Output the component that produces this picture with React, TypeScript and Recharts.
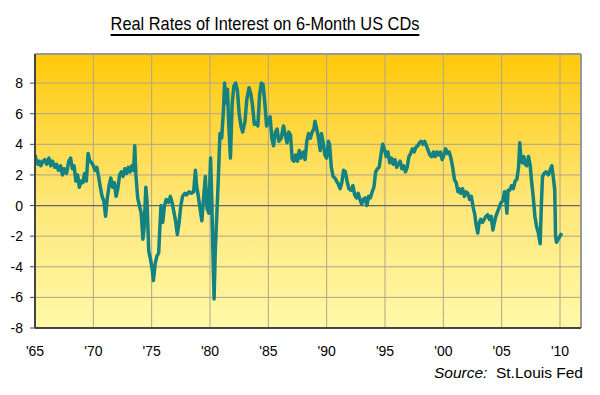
import {
  LineChart,
  Line,
  XAxis,
  YAxis,
  CartesianGrid,
  ReferenceLine,
} from "recharts";

// decimal year of each reading
const dates = [
  1965.0, 1965.1, 1965.25, 1965.4, 1965.5, 1965.7, 1965.85, 1966.0, 1966.2, 1966.35, 1966.5, 1966.7, 1966.85,
  1967.0, 1967.2, 1967.35, 1967.5, 1967.7, 1967.9, 1968.05, 1968.2, 1968.35, 1968.5, 1968.65, 1968.8, 1968.95,
  1969.1, 1969.25, 1969.4, 1969.55, 1969.7, 1969.85, 1970.0, 1970.15, 1970.3, 1970.45, 1970.6, 1970.75, 1970.9,
  1971.05, 1971.2, 1971.35, 1971.5, 1971.65, 1971.8, 1971.95, 1972.1, 1972.25, 1972.4, 1972.55, 1972.7, 1972.85,
  1973.0, 1973.15, 1973.3, 1973.45, 1973.55, 1973.65, 1973.8, 1973.95, 1974.1, 1974.25, 1974.35, 1974.5, 1974.6,
  1974.75, 1974.9, 1975.05, 1975.15, 1975.3, 1975.45, 1975.6, 1975.7, 1975.8, 1975.95, 1976.1, 1976.25, 1976.45,
  1976.6, 1976.75, 1976.9, 1977.05, 1977.2, 1977.35, 1977.5, 1977.65, 1977.85, 1978.0, 1978.2, 1978.4, 1978.6,
  1978.75, 1978.85, 1979.0, 1979.15, 1979.3, 1979.45, 1979.6, 1979.75, 1979.9, 1980.05, 1980.15, 1980.25, 1980.35,
  1980.45, 1980.6, 1980.7, 1980.85, 1981.0, 1981.15, 1981.25, 1981.35, 1981.5, 1981.6, 1981.75, 1981.9, 1982.05,
  1982.2, 1982.35, 1982.5, 1982.65, 1982.8, 1983.0, 1983.15, 1983.35, 1983.5, 1983.65, 1983.8, 1983.95, 1984.1,
  1984.25, 1984.4, 1984.55, 1984.7, 1984.85, 1985.0, 1985.15, 1985.3, 1985.45, 1985.6, 1985.75, 1985.9, 1986.1,
  1986.3, 1986.45, 1986.6, 1986.75, 1986.9, 1987.05, 1987.2, 1987.35, 1987.5, 1987.65, 1987.8, 1988.0, 1988.15,
  1988.3, 1988.45, 1988.6, 1988.75, 1988.9, 1989.0, 1989.15, 1989.3, 1989.45, 1989.55, 1989.7, 1989.85, 1990.0,
  1990.15, 1990.25, 1990.4, 1990.55, 1990.7, 1990.85, 1991.0, 1991.15, 1991.3, 1991.45, 1991.6, 1991.75, 1991.9,
  1992.1, 1992.25, 1992.4, 1992.55, 1992.7, 1992.85, 1993.0, 1993.15, 1993.3, 1993.45, 1993.6, 1993.75, 1993.9,
  1994.05, 1994.2, 1994.35, 1994.5, 1994.65, 1994.8, 1994.95, 1995.1, 1995.25, 1995.4, 1995.55, 1995.7, 1995.85,
  1996.0, 1996.15, 1996.3, 1996.45, 1996.6, 1996.75, 1996.9, 1997.05, 1997.2, 1997.35, 1997.5, 1997.65, 1997.8,
  1997.95, 1998.1, 1998.25, 1998.4, 1998.55, 1998.7, 1998.85, 1999.0, 1999.15, 1999.3, 1999.45, 1999.6, 1999.75,
  1999.9, 2000.05, 2000.2, 2000.35, 2000.5, 2000.65, 2000.8, 2000.95, 2001.1, 2001.25, 2001.35, 2001.5, 2001.65,
  2001.8, 2001.95, 2002.1, 2002.25, 2002.4, 2002.55, 2002.7, 2002.8, 2002.95, 2003.05, 2003.2, 2003.35, 2003.5,
  2003.65, 2003.8, 2003.95, 2004.1, 2004.25, 2004.35, 2004.5, 2004.65, 2004.8, 2004.95, 2005.1, 2005.25, 2005.35,
  2005.45, 2005.55, 2005.7, 2005.85, 2006.0, 2006.15, 2006.3, 2006.45, 2006.55, 2006.65, 2006.75, 2006.9, 2007.0,
  2007.15, 2007.3, 2007.45, 2007.55, 2007.7, 2007.85, 2008.0, 2008.15, 2008.3, 2008.4, 2008.5, 2008.65, 2008.8,
  2009.0, 2009.15, 2009.3, 2009.45, 2009.55, 2009.62, 2009.7, 2009.85, 2010.0, 2010.15,
];

// real rate, % (same order as dates)
const rates = [
  3.3, 3.0, 2.7, 2.9, 2.6, 2.9, 3.0, 2.7, 3.1, 2.6, 2.9, 2.5, 2.7,
  2.3, 2.6, 2.0, 2.4, 2.1, 2.9, 3.1, 2.4, 2.6, 1.6, 2.0, 1.2, 1.6,
  1.5, 2.1, 1.6, 3.4, 2.9, 2.8, 2.6, 2.3, 2.5, 1.9, 1.2, 0.6, 0.3,
  -0.7, 0.5, 1.3, 1.8, 1.2, 1.5, 0.6, 1.1, 2.0, 2.2, 1.9, 2.4, 2.1,
  2.5, 2.2, 2.6, 2.3, 3.9, 2.0, 0.5, 0.0, -0.5, -2.2, -1.5, 1.2, 0.3,
  -3.0, -3.5, -4.2, -4.9, -3.8, -3.3, -3.1, -1.5, 0.0, -1.1, 0.0, 0.4, 0.2,
  0.6, 0.2, -0.4, -1.0, -1.9, -1.1, 0.0, 0.6, 0.8, 0.7, 0.9, 0.8, 0.9,
  2.3, 1.3, 0.6, -0.2, -1.0, 0.5, 1.9, -0.2, -0.5, 3.1, 0.5, -3.0, -6.1,
  -3.0, -0.3, 1.5, 4.7, 4.4, 6.2, 8.0, 6.7, 7.6, 5.4, 3.1, 6.7, 7.8,
  8.0, 7.5, 6.0, 5.2, 4.8, 5.5, 6.9, 7.7, 7.3, 6.5, 5.3, 5.4, 5.2,
  7.2, 8.0, 7.9, 6.7, 5.2, 5.6, 5.8, 4.4, 3.9, 4.8, 5.0, 4.2, 4.4,
  5.2, 4.6, 4.1, 4.8, 4.6, 3.0, 2.9, 3.3, 2.9, 3.6, 3.1, 3.5, 3.0,
  4.2, 4.7, 4.4, 4.8, 5.0, 5.5, 5.0, 4.4, 3.6, 4.7, 4.1, 3.3, 3.1,
  4.2, 4.0, 2.5, 1.9, 1.8, 1.6, 1.4, 1.1, 1.5, 2.3, 2.2, 1.6, 1.1,
  1.0, 1.3, 0.7, 0.5, 0.8, 0.4, 0.1, 0.4, 0.5, 0.0, 0.6, 0.5, 0.9,
  1.2, 2.2, 2.4, 2.5, 3.3, 4.0, 3.7, 3.2, 3.5, 2.8, 3.1, 2.7, 3.0,
  2.5, 2.7, 2.9, 2.4, 2.6, 2.2, 2.5, 3.2, 3.4, 3.7, 3.5, 3.8, 3.9,
  4.1, 4.2, 4.0, 4.2, 3.9, 3.6, 3.3, 3.2, 3.5, 3.2, 3.5, 3.3, 3.5,
  3.0, 3.3, 3.7, 3.4, 3.5, 3.1, 2.5, 1.7, 1.5, 0.9, 1.1, 0.8, 1.1,
  0.6, 0.9, 0.8, 0.4, 0.6, -0.1, -0.6, -1.2, -1.8, -1.2, -0.9, -1.1, -0.9,
  -0.7, -0.6, -0.9, -0.7, -1.6, -1.2, -0.7, -0.4, -0.1, 0.2, 0.3, 0.9, 0.4,
  -0.5, 1.0, 1.0, 1.3, 1.1, 1.6, 1.7, 2.5, 4.1, 3.1, 2.8, 3.2, 2.7,
  2.6, 3.2, 2.6, 1.7, 0.6, -0.7, -1.4, -1.8, -2.5, 0.0, 1.9, 2.1, 2.2,
  2.0, 2.3, 2.6, 1.7, 1.0, -2.0, -2.4, -2.2, -2.0, -1.8,
];

const yearTicks = [1965, 1970, 1975, 1980, 1985, 1990, 1995, 2000, 2005, 2010];
const rateTicks = [-8, -6, -4, -2, 0, 2, 4, 6, 8];

const X_MAX = 2011.8;
const Y_MAX = 9.9;

const data = dates.map((d, i) => ({ year: d, rate: rates[i] }));

if (typeof document !== "undefined") document.body.style.margin = "0";

const FONT = "'Liberation Sans', Arial, sans-serif";

export default function App() {
  return (
    <div style={{ position: "relative", width: 600, height: 395, background: "#fff", fontFamily: FONT }}>
      <div
        style={{
          position: "absolute",
          top: 13,
          left: 0,
          width: 530,
          textAlign: "center",
          fontSize: 19,
          transform: "scaleX(0.86)",
          transformOrigin: "265px 0",
          textDecoration: "underline",
          textDecorationThickness: 2,
          textUnderlineOffset: 4,
          color: "#000",
        }}
      >
        Real Rates of Interest on 6-Month US CDs
      </div>
      <LineChart width={600} height={395} data={data} margin={{ top: 54, right: 19, bottom: 37, left: 0 }}>
        <defs>
          <linearGradient id="bg" x1="0" y1="0" x2="0" y2="1">
            <stop offset="0%" stopColor="#FFC90A" />
            <stop offset="55%" stopColor="#FFE77A" />
            <stop offset="100%" stopColor="#FFF9A8" />
          </linearGradient>
        </defs>
        <CartesianGrid fill="url(#bg)" stroke="#b0a48a" strokeWidth={1} />
        <XAxis
          dataKey="year"
          type="number"
          domain={[1965, X_MAX]}
          ticks={yearTicks}
          tickFormatter={(v: number) => "'" + String(v).slice(2)}
          tick={{ fill: "#000", fontSize: 14, fontFamily: FONT }}
          tickLine={false}
          axisLine={{ stroke: "#444", strokeWidth: 2 }}
          tickMargin={12}
          height={30}
          allowDataOverflow
        />
        <YAxis
          type="number"
          domain={[-8, Y_MAX]}
          ticks={rateTicks}
          tick={{ fill: "#000", fontSize: 14, fontFamily: FONT }}
          tickLine={{ stroke: "#444" }}
          tickSize={5}
          tickMargin={7}
          axisLine={{ stroke: "#444", strokeWidth: 2 }}
          width={35}
          allowDataOverflow
        />
        <ReferenceLine y={0} stroke="#666" strokeWidth={1.2} />
        <ReferenceLine y={Y_MAX} stroke="#999" strokeWidth={2} />
        <ReferenceLine x={X_MAX} stroke="#999" strokeWidth={2} />
        <Line
          type="linear"
          dataKey="rate"
          stroke="#138280"
          strokeWidth={3.5}
          dot={false}
          strokeLinejoin="round"
          isAnimationActive={false}
        />
      </LineChart>
      <div style={{ position: "absolute", top: 364, right: 17, fontSize: 15.5, color: "#000" }}>
        <span style={{ fontStyle: "italic" }}>Source:</span>&nbsp; St.Louis Fed
      </div>
    </div>
  );
}
